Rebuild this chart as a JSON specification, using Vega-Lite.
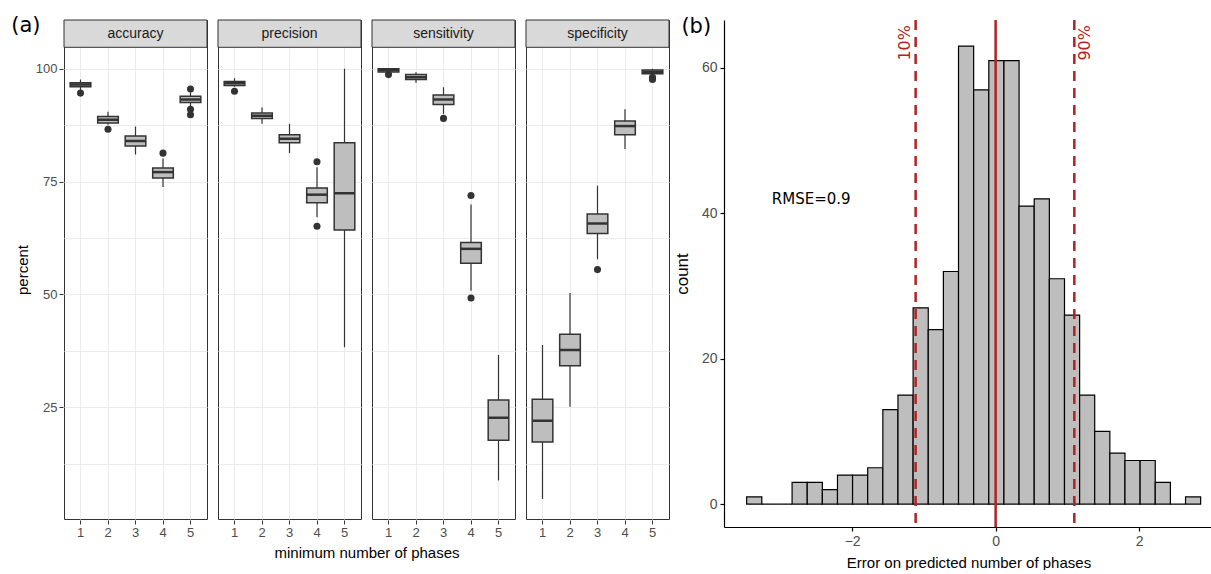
{
  "$schema": "https://vega.github.io/schema/vega-lite/v6.json",
  "background": "white",
  "padding": {"left": 11, "top": 15, "right": 0, "bottom": 0},
  "config": {"font": "Liberation Sans", "view": {"stroke": null}, "title": {"fontWeight": "normal"}},
  "datasets": {
    "a": [
      {"metric": "accuracy", "n": 1, "kind": "box", "lower": 95.3, "q1": 96.0, "median": 96.5, "q3": 96.9, "upper": 97.6},
      {"metric": "accuracy", "n": 2, "kind": "box", "lower": 87.6, "q1": 88.0, "median": 88.7, "q3": 89.4, "upper": 90.5},
      {"metric": "accuracy", "n": 3, "kind": "box", "lower": 81.0, "q1": 82.9, "median": 84.0, "q3": 85.1, "upper": 87.2},
      {"metric": "accuracy", "n": 4, "kind": "box", "lower": 73.8, "q1": 75.8, "median": 77.1, "q3": 78.0, "upper": 80.1},
      {"metric": "accuracy", "n": 5, "kind": "box", "lower": 91.6, "q1": 92.5, "median": 93.2, "q3": 93.9, "upper": 94.8},
      {"metric": "precision", "n": 1, "kind": "box", "lower": 96.0, "q1": 96.3, "median": 96.8, "q3": 97.2, "upper": 97.9},
      {"metric": "precision", "n": 2, "kind": "box", "lower": 87.8, "q1": 89.0, "median": 89.6, "q3": 90.2, "upper": 91.4},
      {"metric": "precision", "n": 3, "kind": "box", "lower": 81.3, "q1": 83.6, "median": 84.5, "q3": 85.4, "upper": 87.8},
      {"metric": "precision", "n": 4, "kind": "box", "lower": 67.1, "q1": 70.3, "median": 72.1, "q3": 73.6, "upper": 78.2},
      {"metric": "precision", "n": 5, "kind": "box", "lower": 38.3, "q1": 64.3, "median": 72.4, "q3": 83.6, "upper": 100},
      {"metric": "sensitivity", "n": 1, "kind": "box", "lower": 98.9, "q1": 99.3, "median": 99.7, "q3": 100, "upper": 100},
      {"metric": "sensitivity", "n": 2, "kind": "box", "lower": 96.9, "q1": 97.6, "median": 98.1, "q3": 98.7, "upper": 99.2},
      {"metric": "sensitivity", "n": 3, "kind": "box", "lower": 90.0, "q1": 92.1, "median": 93.2, "q3": 94.2, "upper": 95.9},
      {"metric": "sensitivity", "n": 4, "kind": "box", "lower": 50.8, "q1": 56.9, "median": 60.1, "q3": 61.5, "upper": 69.9},
      {"metric": "sensitivity", "n": 5, "kind": "box", "lower": 8.8, "q1": 17.7, "median": 22.7, "q3": 26.6, "upper": 36.6},
      {"metric": "specificity", "n": 1, "kind": "box", "lower": 4.7, "q1": 17.3, "median": 22.0, "q3": 26.8, "upper": 38.8},
      {"metric": "specificity", "n": 2, "kind": "box", "lower": 25.1, "q1": 34.2, "median": 37.7, "q3": 41.2, "upper": 50.3},
      {"metric": "specificity", "n": 3, "kind": "box", "lower": 57.8, "q1": 63.5, "median": 65.7, "q3": 67.8, "upper": 74.1},
      {"metric": "specificity", "n": 4, "kind": "box", "lower": 82.2, "q1": 85.4, "median": 87.3, "q3": 88.4, "upper": 91.0},
      {"metric": "specificity", "n": 5, "kind": "box", "lower": 98.5, "q1": 98.9, "median": 99.3, "q3": 99.7, "upper": 100},
      {"metric": "accuracy", "n": 1, "kind": "out", "value": 94.6},
      {"metric": "accuracy", "n": 2, "kind": "out", "value": 86.6},
      {"metric": "accuracy", "n": 4, "kind": "out", "value": 81.3},
      {"metric": "accuracy", "n": 5, "kind": "out", "value": 95.5},
      {"metric": "accuracy", "n": 5, "kind": "out", "value": 91.0},
      {"metric": "accuracy", "n": 5, "kind": "out", "value": 89.8},
      {"metric": "precision", "n": 1, "kind": "out", "value": 95.0},
      {"metric": "precision", "n": 4, "kind": "out", "value": 79.4},
      {"metric": "precision", "n": 4, "kind": "out", "value": 65.1},
      {"metric": "sensitivity", "n": 1, "kind": "out", "value": 98.7},
      {"metric": "sensitivity", "n": 3, "kind": "out", "value": 89.0},
      {"metric": "sensitivity", "n": 4, "kind": "out", "value": 71.9},
      {"metric": "sensitivity", "n": 4, "kind": "out", "value": 49.2},
      {"metric": "specificity", "n": 3, "kind": "out", "value": 55.5},
      {"metric": "specificity", "n": 5, "kind": "out", "value": 97.6},
      {"metric": "specificity", "n": 5, "kind": "out", "value": 98.1}
    ],
    "hist": [
      {"start": -3.470, "end": -3.259, "count": 1},
      {"start": -3.259, "end": -3.048, "count": 0},
      {"start": -3.048, "end": -2.837, "count": 0},
      {"start": -2.837, "end": -2.626, "count": 3},
      {"start": -2.626, "end": -2.415, "count": 3},
      {"start": -2.415, "end": -2.204, "count": 2},
      {"start": -2.204, "end": -1.994, "count": 4},
      {"start": -1.994, "end": -1.783, "count": 4},
      {"start": -1.783, "end": -1.572, "count": 5},
      {"start": -1.572, "end": -1.361, "count": 13},
      {"start": -1.361, "end": -1.150, "count": 15},
      {"start": -1.150, "end": -0.939, "count": 27},
      {"start": -0.939, "end": -0.728, "count": 24},
      {"start": -0.728, "end": -0.517, "count": 32},
      {"start": -0.517, "end": -0.306, "count": 63},
      {"start": -0.306, "end": -0.095, "count": 57},
      {"start": -0.095, "end": 0.116, "count": 61},
      {"start": 0.116, "end": 0.327, "count": 61},
      {"start": 0.327, "end": 0.538, "count": 41},
      {"start": 0.538, "end": 0.749, "count": 42},
      {"start": 0.749, "end": 0.960, "count": 31},
      {"start": 0.960, "end": 1.171, "count": 26},
      {"start": 1.171, "end": 1.381, "count": 15},
      {"start": 1.381, "end": 1.592, "count": 10},
      {"start": 1.592, "end": 1.803, "count": 7},
      {"start": 1.803, "end": 2.014, "count": 6},
      {"start": 2.014, "end": 2.225, "count": 6},
      {"start": 2.225, "end": 2.436, "count": 3},
      {"start": 2.436, "end": 2.647, "count": 0},
      {"start": 2.647, "end": 2.858, "count": 1}
    ],
    "center": [{"x": 0}],
    "quant": [{"label": "10%", "x": -1.115}, {"label": "90%", "x": 1.097}],
    "rmse": [{"label": "RMSE=0.9", "x": -2.57, "y": 42}]
  },
  "spacing": 3,
  "hconcat": [
    {
      "data": {"name": "a"},
      "title": {"text": "(a)", "anchor": "start", "frame": "bounds", "offset": -17, "dx": -4, "font": "DejaVu Sans", "fontSize": 21, "fontWeight": "normal", "color": "black"},
      "facet": {
        "column": {
          "field": "metric", "type": "nominal",
          "sort": ["accuracy", "precision", "sensitivity", "specificity"],
          "header": {"labels": false, "title": "minimum number of phases", "titleOrient": "bottom", "titleFont": "Liberation Sans", "titleFontSize": 15, "titleColor": "black", "titleFontWeight": "normal", "titlePadding": -3}
        }
      },
      "spacing": {"column": 9},
      "spec": {
        "width": 143,
        "height": 499,
        "view": {"stroke": "#333333", "strokeWidth": 1},
        "layer": [
          {
            "transform": [{"filter": "datum.kind === 'box' && datum.n === 1"}],
            "mark": {"type": "rect", "fill": "#D9D9D9", "stroke": "#333333", "strokeWidth": 1},
            "encoding": {
              "y": {"datum": 104.75, "type": "quantitative", "title": "percent", "scale": {"domain": [0.25, 110.8], "nice": false, "zero": false}},
              "y2": {"datum": 110.8}
            }
          },
          {
            "transform": [{"filter": "datum.kind === 'box' && datum.n === 1"}],
            "mark": {"type": "text", "fontSize": 14, "color": "#1A1A1A", "font": "Liberation Sans"},
            "encoding": {
              "y": {"datum": 107.8, "type": "quantitative", "title": "percent"},
              "text": {"field": "metric"}
            }
          },
          {
            "transform": [{"filter": "datum.kind === 'box'"}],
            "mark": {"type": "rule", "color": "#333333", "strokeWidth": 1.2},
            "encoding": {
              "x": {
                "field": "n", "type": "ordinal", "title": null,
                "scale": {"type": "band", "paddingInner": 0.25, "paddingOuter": 0.225},
                "axis": {"bandPosition": 0.5, "grid": true, "gridColor": "#EBEBEB", "gridWidth": 1.1, "domain": false, "tickColor": "#333333", "tickSize": 4, "labelColor": "#4D4D4D", "labelFontSize": 13, "labelAngle": 0, "labelPadding": 2}
              },
              "y": {
                "field": "lower", "type": "quantitative", "title": "percent",
                "scale": {"domain": [0.25, 110.8], "nice": false, "zero": false},
                "axis": {
                  "grid": true,
                  "values": [12.5, 25, 37.5, 50, 62.5, 75, 87.5, 100],
                  "labelExpr": "datum.value % 25 === 0 ? datum.label : ''",
                  "tickOpacity": {"condition": {"test": "datum.value % 25 !== 0", "value": 0}, "value": 1},
                  "gridColor": "#EBEBEB",
                  "gridWidth": 1.1,
                  "domain": false, "tickColor": "#333333", "tickSize": 4,
                  "labelColor": "#4D4D4D", "labelFontSize": 13, "labelPadding": 2,
                  "titleFontSize": 15, "titleFontWeight": "normal", "titleColor": "black", "titlePadding": 5
                }
              },
              "y2": {"field": "upper"}
            }
          },
          {
            "transform": [{"filter": "datum.kind === 'box'"}],
            "mark": {"type": "bar", "fill": "#BEBEBE", "stroke": "#333333", "strokeWidth": 1.5},
            "encoding": {
              "x": {"field": "n", "type": "ordinal", "title": null},
              "y": {"field": "q1", "type": "quantitative", "title": "percent"},
              "y2": {"field": "q3"}
            }
          },
          {
            "transform": [{"filter": "datum.kind === 'box'"}],
            "mark": {"type": "tick", "color": "#333333", "thickness": 2.5, "size": 20.6, "opacity": 1},
            "encoding": {
              "x": {"field": "n", "type": "ordinal", "title": null},
              "y": {"field": "median", "type": "quantitative", "title": "percent"}
            }
          },
          {
            "transform": [{"filter": "datum.kind === 'out'"}],
            "mark": {"type": "point", "filled": true, "color": "#333333", "size": 50, "opacity": 1},
            "encoding": {
              "x": {"field": "n", "type": "ordinal", "title": null},
              "y": {"field": "value", "type": "quantitative", "title": "percent"}
            }
          }
        ]
      }
    },
    {
      "width": 489,
      "height": 507,
      "title": {"text": "(b)", "anchor": "start", "frame": "bounds", "offset": -18, "dx": 8, "font": "DejaVu Sans", "fontSize": 21, "fontWeight": "normal", "color": "black"},
      "layer": [
        {
          "data": {"name": "hist"},
          "mark": {"type": "bar", "fill": "#BEBEBE", "stroke": "black", "strokeWidth": 1.2},
          "encoding": {
            "x": {
              "field": "start", "type": "quantitative", "title": "Error on predicted number of phases",
              "scale": {"domain": [-3.786, 3.03], "nice": false, "zero": false},
              "axis": {"values": [-2, 0, 2], "format": "d", "grid": false, "domainColor": "black", "domainWidth": 1.2, "tickColor": "black", "tickWidth": 1.2, "tickSize": 4, "labelColor": "#4D4D4D", "labelFontSize": 14, "labelPadding": 3, "titleFontSize": 15, "titleFontWeight": "normal", "titleColor": "black", "titlePadding": 7}
            },
            "x2": {"field": "end"},
            "y": {
              "field": "count", "type": "quantitative", "title": "count",
              "scale": {"domain": [-3.15, 66.6], "nice": false, "zero": false},
              "axis": {"values": [0, 20, 40, 60], "grid": false, "domainColor": "black", "domainWidth": 1.2, "tickColor": "black", "tickWidth": 1.2, "tickSize": 4, "labelColor": "#4D4D4D", "labelFontSize": 14, "labelPadding": 3, "titleFontSize": 17, "titleFontWeight": "normal", "titleColor": "black", "titlePadding": 10}
            },
            "y2": {"datum": 0}
          }
        },
        {
          "data": {"name": "center"},
          "mark": {"type": "rule", "color": "#B22222", "strokeWidth": 2.5},
          "encoding": {"x": {"field": "x", "type": "quantitative", "title": "Error on predicted number of phases"}}
        },
        {
          "data": {"name": "quant"},
          "mark": {"type": "rule", "color": "#B22222", "strokeWidth": 2.5, "strokeDash": [10, 7]},
          "encoding": {"x": {"field": "x", "type": "quantitative", "title": "Error on predicted number of phases"}}
        },
        {
          "data": {"name": "quant"},
          "transform": [{"filter": "datum.label === '10%'"}],
          "mark": {"type": "text", "angle": 270, "align": "right", "baseline": "bottom", "dx": -5, "dy": -3, "color": "#B22222", "font": "DejaVu Sans", "fontSize": 16},
          "encoding": {
            "x": {"field": "x", "type": "quantitative", "title": "Error on predicted number of phases"},
            "y": {"datum": 66.6, "type": "quantitative", "title": "count"},
            "text": {"field": "label"}
          }
        },
        {
          "data": {"name": "quant"},
          "transform": [{"filter": "datum.label === '90%'"}],
          "mark": {"type": "text", "angle": 270, "align": "right", "baseline": "top", "dx": -5, "dy": 3, "color": "#B22222", "font": "DejaVu Sans", "fontSize": 16},
          "encoding": {
            "x": {"field": "x", "type": "quantitative", "title": "Error on predicted number of phases"},
            "y": {"datum": 66.6, "type": "quantitative", "title": "count"},
            "text": {"field": "label"}
          }
        },
        {
          "data": {"name": "rmse"},
          "mark": {"type": "text", "font": "DejaVu Sans", "fontSize": 15, "color": "black"},
          "encoding": {
            "x": {"field": "x", "type": "quantitative", "title": "Error on predicted number of phases"},
            "y": {"field": "y", "type": "quantitative", "title": "count"},
            "text": {"field": "label"}
          }
        }
      ]
    }
  ]
}
